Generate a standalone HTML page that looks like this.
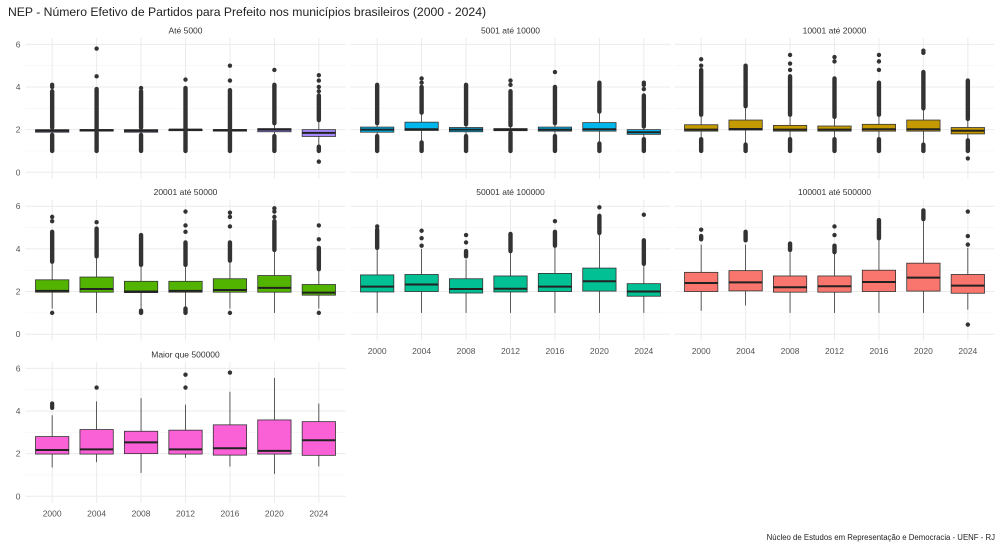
<!DOCTYPE html>
<html><head><meta charset="utf-8">
<style>
html,body{margin:0;padding:0;background:#fff;}
svg{display:block;font-family:"Liberation Sans",sans-serif;}
</style></head>
<body>
<svg id="chart" width="1000" height="546" viewBox="0 0 1000 546">
<text x="8" y="16" font-size="12.2" fill="#222">NEP - Número Efetivo de Partidos para Prefeito nos municípios brasileiros (2000 - 2024)</text>
<text x="995" y="540" font-size="7.8" fill="#222" text-anchor="end">Núcleo de Estudos em Representação e Democracia - UENF - RJ</text>
</svg>
<script>
const years = ["2000","2004","2008","2012","2016","2020","2024"];
const yTicks = [0,2,4,6];
const panelTitles = ["Até 5000","5001 até 10000","10001 até 20000","20001 até 50000","50001 até 100000","100001 até 500000","Maior que 500000"];
const panelColors = ["#A58AFF","#00B6EB","#C49A00","#53B400","#00C094","#F8766D","#FB61D7"];
// per panel, per year: [lowerWhisker, q1, median, q3, upperWhisker]
const boxes0 = [[1.78,1.88,1.95,2.0,2.08],[1.9,1.93,1.98,2.0,2.03],[1.78,1.88,1.95,2.0,2.08],[1.92,1.95,2.0,2.0,2.03],[1.9,1.93,1.98,2.0,2.03],[1.72,1.9,2.0,2.05,2.28],[1.25,1.68,1.85,2.0,2.42]];
const boxes1 = [[1.72,1.88,2.0,2.12,2.28],[1.42,1.96,2.02,2.35,2.78],[1.72,1.9,2.0,2.1,2.23],[1.87,1.95,2.0,2.05,2.18],[1.72,1.93,2.0,2.12,2.28],[1.37,1.93,2.02,2.33,2.83],[1.57,1.78,1.88,2.0,2.13]];
const boxes2 = [[1.57,1.93,2.0,2.23,2.68],[1.32,1.98,2.03,2.45,3.08],[1.57,1.93,2.0,2.2,2.68],[1.57,1.93,2.0,2.17,2.58],[1.57,1.93,2.02,2.25,2.68],[1.32,1.93,2.02,2.45,2.98],[1.52,1.8,1.95,2.1,2.48]];
const boxes3 = [[1.2,1.97,2.03,2.55,3.35],[1.0,1.97,2.12,2.68,3.6],[1.15,1.95,2.0,2.48,3.2],[1.25,1.97,2.03,2.48,3.2],[1.2,1.97,2.07,2.6,3.4],[1.0,1.97,2.17,2.75,3.9],[1.2,1.83,1.95,2.33,3.0]];
const boxes4 = [[1.0,1.98,2.23,2.78,4.0],[1.0,2.0,2.33,2.8,4.0],[1.0,1.93,2.12,2.6,3.5],[1.0,1.98,2.13,2.73,3.85],[1.0,2.0,2.23,2.85,4.1],[1.0,2.02,2.48,3.1,4.7],[1.0,1.78,2.0,2.37,3.25]];
const boxes5 = [[1.1,2.0,2.4,2.9,4.2],[1.35,2.03,2.43,2.98,4.2],[1.0,1.97,2.2,2.73,3.85],[1.0,1.97,2.25,2.73,3.8],[1.0,2.0,2.45,3.0,4.45],[1.0,2.02,2.65,3.33,5.3],[1.15,1.92,2.28,2.8,4.05]];
const boxes6 = [[1.35,1.98,2.17,2.8,3.8],[1.6,1.98,2.2,3.13,4.45],[1.1,2.0,2.53,3.05,4.6],[1.8,1.98,2.2,3.1,4.3],[1.4,1.93,2.25,3.35,4.9],[1.05,1.98,2.13,3.58,5.55],[1.4,1.92,2.63,3.5,4.35]];
// dense outlier runs [from,to] per year
const runs0 = [[[1,1.75],[2.1,3.8]],[[1,1.88],[2.05,3.9]],[[1,1.75],[2.1,3.8]],[[1,1.9],[2.05,3.95]],[[1,1.88],[2.05,3.85]],[[1,1.7],[2.3,4.1]],[[1,1.2],[2.45,3.6]]];
const runs1 = [[[1,1.7],[2.3,4.1]],[[1,1.4],[2.8,4.0]],[[1,1.7],[2.25,4.1]],[[1,1.85],[2.2,3.8]],[[1,1.7],[2.3,4.0]],[[1,1.35],[2.85,4.2]],[[1,1.55],[2.15,3.6]]];
const runs2 = [[[1,1.55],[2.7,4.8]],[[1,1.3],[3.1,5.0]],[[1,1.55],[2.7,4.5]],[[1,1.55],[2.6,4.4]],[[1,1.55],[2.7,4.2]],[[1,1.3],[3.0,4.7]],[[1,1.5],[2.5,4.3]]];
const runs3 = [[[3.4,4.8]],[[3.65,4.95]],[[3.25,4.65],[1.0,1.1]],[[3.25,4.3],[1.0,1.2]],[[3.45,4.3]],[[3.95,5.3]],[[3.05,4.05]]];
const runs4 = [[[4.05,4.9]],[],[[3.65,3.9]],[[3.9,4.7]],[[4.15,4.8]],[[4.75,5.55]],[[3.3,4.4]]];
const runs5 = [[[4.45,4.6]],[[4.4,4.8]],[[3.95,4.25]],[[3.85,4.15]],[[4.5,5.35]],[[5.4,5.8]],[]];
const runs6 = [[],[],[],[],[],[],[]];
// single outlier points per year
const pts0 = [[4.0,4.1],[4.5,5.8],[3.95],[4.35],[4.3,5.0],[4.8],[3.8,4.0,4.3,4.55,0.5]];
const pts1 = [[],[4.2,4.4],[],[4.1,4.3],[4.7],[],[3.9,4.1,4.2]];
const pts2 = [[5.0,5.3],[],[4.8,5.1,5.5],[5.2,5.4],[4.8,5.2,5.5],[5.6,5.7],[0.65]];
const pts3 = [[1.0,5.3,5.5],[5.25],[],[4.8,5.1,5.75],[1.0,5.05,5.5,5.7],[5.5,5.75,5.9],[1.0,4.45,5.1]];
const pts4 = [[5.05],[4.15,4.5,4.85],[4.3,4.65],[],[5.3],[5.95],[5.6]];
const pts5 = [[4.9],[],[],[4.65,5.05],[],[],[4.2,4.6,5.75,0.45]];
const pts6 = [[4.15,4.25,4.35],[5.1],[],[5.1,5.7],[5.8],[],[]];

const allBoxes=[boxes0,boxes1,boxes2,boxes3,boxes4,boxes5,boxes6];
const allRuns=[runs0,runs1,runs2,runs3,runs4,runs5,runs6];
const allPts=[pts0,pts1,pts2,pts3,pts4,pts5,pts6];

const svg=document.getElementById('chart');
const NS='http://www.w3.org/2000/svg';
function mk(tag,attrs,parent){const e=document.createElementNS(NS,tag);for(const k in attrs)e.setAttribute(k,attrs[k]);(parent||svg).appendChild(e);return e;}
const colLeft=[25.5,350.5,674.5], rowZero=[172.3,334.2,496.3], PW=320, UNIT=21.33, STEP=PW/7.2;
const lastRowInCol=[2,1,1];

for(let p=0;p<7;p++){
  const col=p%3,row=Math.floor(p/3);
  const L=colLeft[col],Z=rowZero[row];
  const y=v=>Z-v*UNIT;
  const x=i=>L+(i+0.6)*STEP;
  const g=mk('g',{});
  
  
  const top=y(6.3),bot=y(-0.3);
  for(let v=1;v<=5;v+=2){mk('line',{x1:L,x2:L+PW,y1:y(v),y2:y(v),stroke:'#f4f4f4','stroke-width':0.6},g);}
  yTicks.forEach(v=>{const l=mk('line',{x1:L,x2:L+PW,y1:y(v),y2:y(v),stroke:'#ebebeb','stroke-width':1},g);
    });
  years.forEach((yr,i)=>{mk('line',{x1:x(i),x2:x(i),y1:top,y2:bot,stroke:'#ebebeb','stroke-width':1},g);});
  const t=mk('text',{x:L+PW/2,y:y(6)-11,'font-size':8.5,fill:'#333','text-anchor':'middle'},g);
  t.textContent=panelTitles[p];
  
  if(col===0){yTicks.forEach(v=>{const tt=mk('text',{x:L-5,y:y(v)+3,'font-size':8.5,fill:'#555','text-anchor':'end'},g);tt.textContent=v;
    });}
  if(row===lastRowInCol[col]){years.forEach((yr,i)=>{const tt=mk('text',{x:x(i),y:Z+20,'font-size':8.5,fill:'#555','text-anchor':'middle'},g);tt.textContent=yr;
    });}
  const bw=STEP*0.75;
  years.forEach((yr,i)=>{
    const b=allBoxes[p][i],cx=x(i);
    const bg=mk('g',{},g);
    
    
    mk('line',{x1:cx,x2:cx,y1:y(b[0]),y2:y(b[4]),stroke:'#333','stroke-width':0.8},bg);
    mk('rect',{x:cx-bw/2,y:y(b[3]),width:bw,height:Math.max(1,y(b[1])-y(b[3])),fill:panelColors[p],stroke:'#333','stroke-width':0.8},bg);
    mk('line',{x1:cx-bw/2,x2:cx+bw/2,y1:y(b[2]),y2:y(b[2]),stroke:'#222','stroke-width':2},bg);
    allRuns[p][i].forEach(r=>{const l=mk('line',{x1:cx,x2:cx,y1:y(r[0]),y2:y(r[1]),stroke:'#333','stroke-width':4.4,'stroke-linecap':'round'},bg);
      });
    allPts[p][i].forEach(v=>{const c=mk('circle',{cx:cx,cy:y(v),r:2.2,fill:'#333'},bg);
      });
  });
}
</script>
</body></html>
